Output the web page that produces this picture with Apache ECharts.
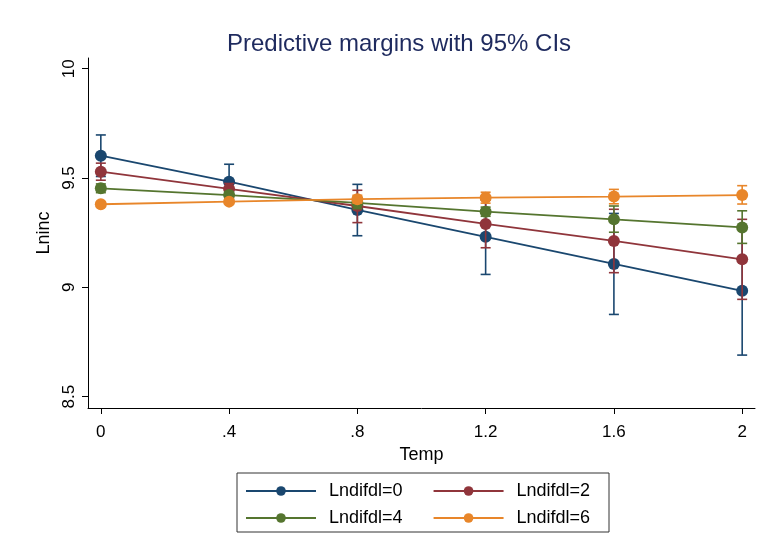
<!DOCTYPE html>
<html lang="en">
<head>
    <meta charset="UTF-8">
    <title>Predictive margins</title>
    <script src="https://cdn.jsdelivr.net/npm/echarts@6/dist/echarts.min.js"></script>
    <style>
        html, body { margin: 0; padding: 0; background: #fff; }
        #chart { width: 760px; height: 535px; }
    </style>
</head>
<body>
<div id="chart"></div>
<script>
    // Temp values on the x axis
    var temp = [0, 0.4, 0.8, 1.2, 1.6, 2];
    var xTicks = [0, 0.4, 0.8, 1.2, 1.6, 2];
    var yTicks = [8.5, 9, 9.5, 10];

    // predicted Lninc, with lower / upper 95% CI
    var mean0 = [9.602, 9.483, 9.354, 9.231, 9.107, 8.984];
    var lo0 = [9.507, 9.403, 9.236, 9.059, 8.876, 8.690];
    var hi0 = [9.697, 9.563, 9.471, 9.402, 9.338, 9.278];

    var mean2 = [9.529, 9.450, 9.372, 9.290, 9.212, 9.128];
    var lo2 = [9.490, 9.425, 9.296, 9.181, 9.067, 8.945];
    var hi2 = [9.568, 9.475, 9.444, 9.399, 9.357, 9.311];

    var mean4 = [9.453, 9.422, 9.386, 9.346, 9.311, 9.274];
    var lo4 = [9.433, 9.407, 9.360, 9.325, 9.252, 9.201];
    var hi4 = [9.473, 9.437, 9.412, 9.367, 9.372, 9.350];

    var mean6 = [9.380, 9.392, 9.403, 9.410, 9.415, 9.422];
    var lo6 = [9.370, 9.382, 9.385, 9.385, 9.382, 9.381];
    var hi6 = [9.390, 9.402, 9.421, 9.435, 9.448, 9.465];

    var names = ['Lndifdl=0', 'Lndifdl=2', 'Lndifdl=4', 'Lndifdl=6'];
    var colors = ['#1a476f', '#90353b', '#55752f', '#e8862a'];
    var means = [mean0, mean2, mean4, mean6];
    var lows = [lo0, lo2, lo4, lo6];
    var highs = [hi0, hi2, hi4, hi6];

    var font = '"Liberation Sans", Arial, sans-serif';

    function fmtX(v) {
        var s = String(Math.round(v * 10) / 10);
        return s.charAt(0) === '0' && s.length > 1 ? s.slice(1) : s;
    }

    function capRender(color) {
        return function (params, api) {
            var x = api.value(0);
            var p1 = api.coord([x, api.value(1)]);
            var p2 = api.coord([x, api.value(2)]);
            var half = 5;
            var st = { stroke: color, lineWidth: 1.6 };
            return {
                type: 'group',
                children: [
                    { type: 'line', shape: { x1: p1[0], y1: p1[1], x2: p2[0], y2: p2[1] }, style: st },
                    { type: 'line', shape: { x1: p1[0] - half, y1: p1[1], x2: p1[0] + half, y2: p1[1] }, style: st },
                    { type: 'line', shape: { x1: p2[0] - half, y1: p2[1], x2: p2[0] + half, y2: p2[1] }, style: st }
                ]
            };
        };
    }

    var series = [];
    for (var i = 0; i < names.length; i++) {
        var ci = [], pts = [];
        for (var j = 0; j < temp.length; j++) {
            ci.push([temp[j], lows[i][j], highs[i][j]]);
            pts.push([temp[j], means[i][j]]);
        }
        series.push({
            type: 'custom',
            name: names[i] + ' CI',
            renderItem: capRender(colors[i]),
            data: ci,
            z: 2 + i * 2,
            silent: true
        });
        series.push({
            type: 'line',
            name: names[i],
            data: pts,
            color: colors[i],
            symbol: 'circle',
            symbolSize: 12,
            lineStyle: { width: 1.8 },
            z: 3 + i * 2
        });
    }

    var chart = echarts.init(document.getElementById('chart'));
    chart.setOption({
        backgroundColor: '#fff',
        animation: false,
        title: {
            text: 'Predictive margins with 95% CIs',
            left: 394,
            top: 27,
            textAlign: 'center',
            textStyle: { fontFamily: font, fontSize: 24, fontWeight: 'normal', color: '#1e2a5e' }
        },
        grid: { left: 88, right: 5, top: 58, bottom: 127 },
        xAxis: {
            type: 'value',
            min: -0.04,
            max: 2.04,
            name: 'Temp',
            nameLocation: 'middle',
            nameGap: 37,
            nameTextStyle: { fontFamily: font, fontSize: 18, color: '#000' },
            axisLine: { onZero: false, lineStyle: { color: '#000', width: 1 } },
            axisTick: { customValues: xTicks, length: 6, lineStyle: { color: '#000' } },
            axisLabel: {
                customValues: xTicks,
                formatter: fmtX,
                margin: 16,
                fontFamily: font, fontSize: 17, color: '#000'
            },
            splitLine: { show: false }
        },
        yAxis: {
            type: 'value',
            min: 8.448,
            max: 10.049,
            name: 'Lninc',
            nameLocation: 'middle',
            nameRotate: 90,
            nameGap: 30,
            nameTextStyle: { fontFamily: font, fontSize: 18, color: '#000' },
            axisLine: { show: true, onZero: false, lineStyle: { color: '#000', width: 1 } },
            axisTick: { show: true, customValues: yTicks, length: 6, lineStyle: { color: '#000' } },
            axisLabel: {
                customValues: yTicks,
                formatter: function (v) { return String(v); },
                rotate: 90,
                margin: 10,
                fontFamily: font, fontSize: 17, color: '#000'
            },
            splitLine: { show: false }
        },
        legend: [
            {
                data: [names[0], names[1]],
                left: 245, top: 482, padding: 0,
                itemWidth: 70, itemHeight: 12, itemGap: 30,
                textStyle: { fontFamily: font, fontSize: 18, color: '#000', padding: [0, 0, 0, 8] }
            },
            {
                data: [names[2], names[3]],
                left: 245, top: 509, padding: 0,
                itemWidth: 70, itemHeight: 12, itemGap: 30,
                textStyle: { fontFamily: font, fontSize: 18, color: '#000', padding: [0, 0, 0, 8] }
            }
        ],
        graphic: [{
            type: 'rect',
            shape: { x: 237, y: 473, width: 372, height: 59 },
            style: { fill: 'none', stroke: '#333', lineWidth: 1 },
            silent: true
        }],
        series: series
    });
</script>
</body>
</html>
